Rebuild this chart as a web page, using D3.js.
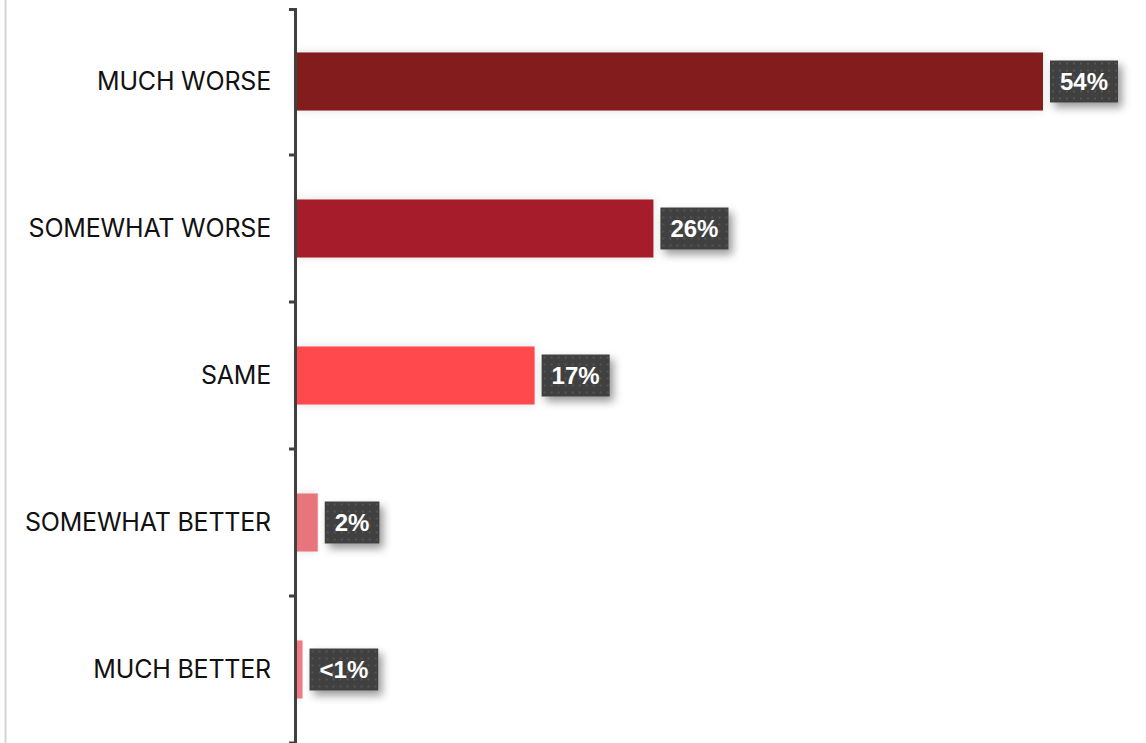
<!DOCTYPE html>
<html><head><meta charset="utf-8">
<script src="https://cdn.jsdelivr.net/npm/d3@7"></script>
<style>body{margin:0;background:#fff;} svg{display:block;}</style>
</head><body>
<script>
const categories = ["MUCH WORSE","SOMEWHAT WORSE","SAME","SOMEWHAT BETTER","MUCH BETTER"];
const values = [54, 25.8, 17.2, 1.5, 0.4];
const valueLabels = ["54%","26%","17%","2%","<1%"];
const colors = ["#831A1F","#A61F29","#FF4A4E","#E8757B","#F27A82"];

const W = 1146, H = 743;
const svg = d3.select("body").append("svg").attr("width", W).attr("height", H);
const defs = svg.append("defs");
const pat = defs.append("pattern").attr("id","dots").attr("patternUnits","userSpaceOnUse")
  .attr("width",7).attr("height",7);
pat.append("rect").attr("width",7).attr("height",7).attr("fill","#3f3f3f");
pat.append("rect").attr("x",2).attr("y",2).attr("width",2).attr("height",2).attr("fill","#565656");
const f = defs.append("filter").attr("id","shadow").attr("x","-30%").attr("y","-30%").attr("width","170%").attr("height","190%");
f.append("feDropShadow").attr("dx",4).attr("dy",5).attr("stdDeviation",4).attr("flood-color","#000").attr("flood-opacity",0.4);
const fb = defs.append("filter").attr("id","barshadow").attr("x","-5%").attr("y","-40%").attr("width","110%").attr("height","180%");
fb.append("feDropShadow").attr("dx",0).attr("dy",0).attr("stdDeviation",5).attr("flood-color","#000").attr("flood-opacity",0.12);

// left border
svg.append("line").attr("x1",5.5).attr("x2",5.5).attr("y1",0).attr("y2",H).attr("stroke","#d4d4d4").attr("stroke-width",2);

const x0 = 297;
const x = d3.scaleLinear().domain([0, 54]).range([x0, 1043]);
const y = d3.scaleBand().domain(categories).range([8, 743]).paddingInner(0.605).paddingOuter(0.3025);

const g = svg.append("g");
g.selectAll("rect.bar").data(categories).join("rect").attr("class","bar")
  .attr("x", x(0)).attr("y", d => y(d))
  .attr("width", (d,i) => x(values[i]) - x(0)).attr("height", y.bandwidth())
  .attr("fill", (d,i) => colors[i]).attr("filter","url(#barshadow)");

// axis
const axis = d3.axisLeft(y).tickSize(0).tickPadding(26);
const ax = svg.append("g").attr("transform", `translate(${x0},0)`).call(axis);
ax.select(".domain").remove();
ax.selectAll("text").attr("font-family","Inter, 'Liberation Sans', sans-serif").attr("font-size",25).attr("fill","#111").style("letter-spacing","-0.2px");
// boundary ticks
const bounds = d3.range(categories.length + 1).map(i => 8 + i * y.step());
svg.append("g").selectAll("line").data(bounds).join("line")
  .attr("x1", x0 - 8).attr("x2", x0).attr("y1", d => d === 8 ? 9.5 : d).attr("y2", d => d === 8 ? 9.5 : d)
  .attr("stroke","#404040").attr("stroke-width",3);
svg.append("line").attr("x1",x0-1.5).attr("x2",x0-1.5).attr("y1",8).attr("y2",H)
  .attr("stroke","#404040").attr("stroke-width",3);

// value labels
const lg = svg.append("g").selectAll("g").data(categories).join("g")
  .attr("transform",(d,i) => `translate(${x(values[i]) + 7},${y(d) + y.bandwidth()/2})`);
lg.each(function(d,i){
  const gg = d3.select(this);
  const t = gg.append("text").text(valueLabels[i]).attr("font-family","'Liberation Sans', Arial, sans-serif")
    .attr("font-weight","bold").attr("font-size",24).attr("fill","#fff").attr("dy","0.36em");
  const w = t.node().getComputedTextLength();
  const pad = 10;
  gg.insert("rect","text").attr("x",0).attr("y",-21).attr("width", w + pad*2).attr("height",42)
    .attr("fill","url(#dots)").attr("filter","url(#shadow)");
  t.attr("x", pad);
});
</script>
</body></html>
